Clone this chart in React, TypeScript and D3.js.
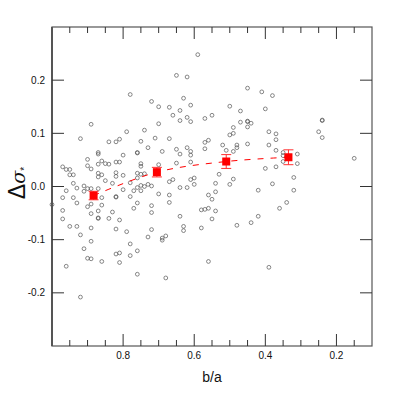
import React from "react";
import * as d3 from "d3";

// scatter sample: axis ratio b/a and residual Δσ*
const baRatio: number[] = [
  0.78, 0.72, 0.89, 0.79, 0.74, 0.92, 0.84, 0.82, 0.81, 0.75, 0.71, 0.73, 0.87, 0.87, 0.76, 0.76, 0.90, 0.86, 0.85, 0.84,
  0.87, 0.82, 0.81, 0.80, 0.90, 0.89, 0.97, 0.96, 0.95, 0.95, 0.94, 0.87, 0.86, 0.87, 0.85, 0.82, 0.82, 0.80, 0.75, 0.75,
  0.76, 0.74, 0.75, 0.76, 0.78, 0.94, 0.93, 0.91, 0.90, 0.89, 0.87, 0.83, 0.80, 0.77, 0.76, 0.75, 0.75, 0.74, 0.73, 0.72,
  0.96, 0.97, 0.94, 0.91, 0.86, 0.82, 0.82, 0.78, 0.70, 0.70, 0.70,
  0.59, 0.65, 0.62, 0.45, 0.41, 0.63, 0.61, 0.67, 0.64, 0.66, 0.50, 0.47, 0.40, 0.62, 0.61, 0.64, 0.57, 0.55, 0.47, 0.45,
  0.45, 0.44, 0.45, 0.49, 0.49, 0.50, 0.67, 0.56, 0.57, 0.57, 0.52, 0.48, 0.45, 0.48, 0.49, 0.51, 0.69, 0.65, 0.62, 0.61,
  0.61, 0.64, 0.65, 0.61, 0.53, 0.60, 0.61, 0.66, 0.67, 0.60, 0.54, 0.50, 0.49, 0.40, 0.64, 0.62, 0.67, 0.56, 0.55, 0.54,
  0.42, 0.70,
  0.38, 0.39, 0.37, 0.37, 0.39, 0.37, 0.35, 0.35, 0.35, 0.31, 0.31, 0.37, 0.32, 0.38, 0.32, 0.24, 0.24, 0.25, 0.24, 0.15,
  1.00, 0.97, 0.97, 0.95, 0.93, 0.92, 0.89, 0.82, 0.79, 0.72, 0.73, 0.89, 0.78, 0.91, 0.76, 0.82, 0.81, 0.78, 0.90, 0.89,
  0.86, 0.81, 0.96, 0.76, 0.92, 0.93, 0.90, 0.89, 0.86, 0.87, 0.89, 0.87, 0.87, 0.84, 0.83, 0.81, 0.76, 0.77, 0.72, 0.72,
  0.67, 0.64, 0.58, 0.57, 0.56, 0.54, 0.55, 0.42, 0.44, 0.48, 0.63, 0.63, 0.58, 0.68, 0.69, 0.69, 0.56, 0.68, 0.39, 0.36,
  0.34,
];

const deltaSigma: number[] = [
  0.173, 0.160, 0.117, 0.103, 0.106, 0.090, 0.084, 0.084, 0.089, 0.085, 0.091, 0.073, 0.064, 0.061, 0.064, 0.063, 0.051, 0.048, 0.043, 0.042,
  0.042, 0.046, 0.046, 0.059, 0.039, 0.033, 0.037, 0.032, 0.032, 0.022, 0.022, 0.025, 0.022, 0.018, 0.011, 0.026, 0.019, 0.021, 0.043, 0.038,
  0.025, 0.024, 0.023, 0.016, 0.007, 0.006, -0.003, 0.001, -0.004, -0.004, -0.004, 0.006, -0.006, -0.008, -0.002, 0.002, -0.008, 0.000, 0.004, 0.001,
  -0.008, -0.021, -0.021, -0.009, -0.021, -0.019, -0.020, -0.019, -0.014, 0.118, 0.150,
  0.248, 0.209, 0.206, 0.185, 0.178, 0.166, 0.153, 0.149, 0.143, 0.134, 0.151, 0.142, 0.146, 0.130, 0.122, 0.124, 0.128, 0.134, 0.121, 0.122,
  0.123, 0.119, 0.112, 0.111, 0.100, 0.097, 0.090, 0.087, 0.083, 0.071, 0.078, 0.078, 0.080, 0.073, 0.066, 0.068, 0.066, 0.070, 0.073, 0.066,
  0.059, 0.061, 0.044, 0.046, 0.023, 0.016, 0.013, 0.013, 0.009, 0.004, 0.006, 0.004, 0.014, 0.034, -0.002, -0.002, -0.016, -0.016, -0.024, -0.010,
  -0.007, 0.041,
  0.171, 0.103, 0.099, 0.088, 0.078, 0.068, 0.064, 0.058, 0.047, 0.061, 0.043, 0.037, 0.017, 0.005, -0.007, 0.125, 0.124, 0.103, 0.092, 0.053,
  -0.034, -0.045, -0.061, -0.075, -0.075, -0.091, -0.078, -0.080, -0.085, -0.081, -0.095, -0.103, -0.108, -0.117, -0.121, -0.127, -0.125, -0.130, -0.135, -0.136,
  -0.141, -0.143, -0.150, -0.165, -0.208, -0.031, -0.038, -0.033, -0.035, -0.046, -0.051, -0.060, -0.059, -0.060, -0.048, -0.063, -0.031, -0.041, -0.036, -0.049,
  -0.030, -0.056, -0.044, -0.043, -0.041, -0.046, -0.061, -0.056, -0.068, -0.073, -0.075, -0.083, -0.078, -0.093, -0.097, -0.101, -0.141, -0.172, -0.152, -0.041,
  -0.030,
];

// binned means
const binBa: number[] = [0.883, 0.705, 0.51, 0.335];
const binMean: number[] = [-0.017, 0.027, 0.047, 0.055];
const binErr: number[] = [0.008, 0.009, 0.013, 0.014];

const xTickLabels: number[] = [0.8, 0.6, 0.4, 0.2];
const yTickLabels: number[] = [-0.2, -0.1, 0.0, 0.1, 0.2];

const W = 399;
const H = 399;
const L = 52, R = 372, T = 27, B = 346;

export default function App() {
  const x = d3.scaleLinear().domain([1.0, 0.1]).range([L, R]);
  const y = d3.scaleLinear().domain([-0.3, 0.3]).range([B, T]);

  const minorX = d3.range(19).map((i) => 0.1 + i * 0.05).filter((v) => v > 0.11 && v < 0.99);
  const isMajor = (v: number) => xTickLabels.some((m) => Math.abs(m - v) < 1e-6);

  const line = d3
    .line<number>()
    .x((_, i) => x(binBa[i]))
    .y((d) => y(d))
    .curve(d3.curveCatmullRom.alpha(0.5));

  const font = "'Liberation Sans', Arial, Helvetica, sans-serif";
  const axisColor = "#555";

  return (
    <svg width={W} height={H} style={{ position: "absolute", left: 0, top: 0, background: "#fff" }} fontFamily={font}>
      {/* scatter */}
      <g>
        {baRatio.map((b, i) => (
          <circle key={i} cx={x(b)} cy={y(deltaSigma[i])} r={1.9} fill="none" stroke="#555" strokeWidth={0.7} />
        ))}
      </g>

      {/* dashed trend */}
      <path d={line(binMean) || ""} fill="none" stroke="#ff0000" strokeWidth={1} strokeDasharray="6,7" />

      {/* binned points with error bars */}
      <g>
        {binBa.map((b, i) => {
          const cx = x(b);
          const cy = y(binMean[i]);
          const y1 = y(binMean[i] + binErr[i]);
          const y2 = y(binMean[i] - binErr[i]);
          return (
            <g key={i}>
              <line x1={cx} x2={cx} y1={y1} y2={y2} stroke="#ff3030" strokeWidth={1} />
              <line x1={cx - 5} x2={cx + 5} y1={y1} y2={y1} stroke="#ff3030" strokeWidth={1} />
              <line x1={cx - 5} x2={cx + 5} y1={y2} y2={y2} stroke="#ff3030" strokeWidth={1} />
              <rect x={cx - 4} y={cy - 4} width={8} height={8} fill="#ff0000" />
            </g>
          );
        })}
      </g>

      {/* frame */}
      <rect x={L} y={T} width={R - L} height={B - T} fill="none" stroke={axisColor} strokeWidth={1.2} />
      <line x1={L} x2={L} y1={T} y2={B} stroke={axisColor} strokeWidth={2} />

      {/* x ticks */}
      <g stroke="#333" strokeWidth={1}>
        {minorX.map((v, i) => {
          const len = isMajor(v) ? 12 : 6;
          const px = x(v);
          return (
            <g key={i}>
              <line x1={px} x2={px} y1={B} y2={B - len} />
              <line x1={px} x2={px} y1={T} y2={T + len} />
            </g>
          );
        })}
      </g>
      {/* y ticks */}
      <g stroke="#333" strokeWidth={1}>
        {yTickLabels.map((v, i) => (
          <g key={i}>
            <line x1={L} x2={L + 12} y1={y(v)} y2={y(v)} />
            <line x1={R} x2={R - 12} y1={y(v)} y2={y(v)} />
          </g>
        ))}
      </g>

      {/* tick labels */}
      <g fontSize={10} fill="#111">
        {xTickLabels.map((v, i) => (
          <text key={i} x={x(v)} y={358.5} textAnchor="middle">
            {d3.format(".1f")(v)}
          </text>
        ))}
        {yTickLabels.map((v, i) => (
          <text key={i} x={45} y={y(v)} dy="0.35em" textAnchor="end">
            {d3.format(".1f")(v).replace("−", "-")}
          </text>
        ))}
      </g>

      {/* axis titles */}
      <text x={(L + R) / 2} y={382} textAnchor="middle" fontSize={14} fill="#111">
        b/a
      </text>
      <text transform="translate(25,183) rotate(-90)" textAnchor="middle" fill="#111">
        <tspan fontSize={23}>Δ</tspan>
        <tspan fontSize={19} fontStyle="italic" fontFamily="'DejaVu Serif', serif">σ</tspan>
        <tspan fontSize={10} dy={3}>*</tspan>
      </text>
    </svg>
  );
}
